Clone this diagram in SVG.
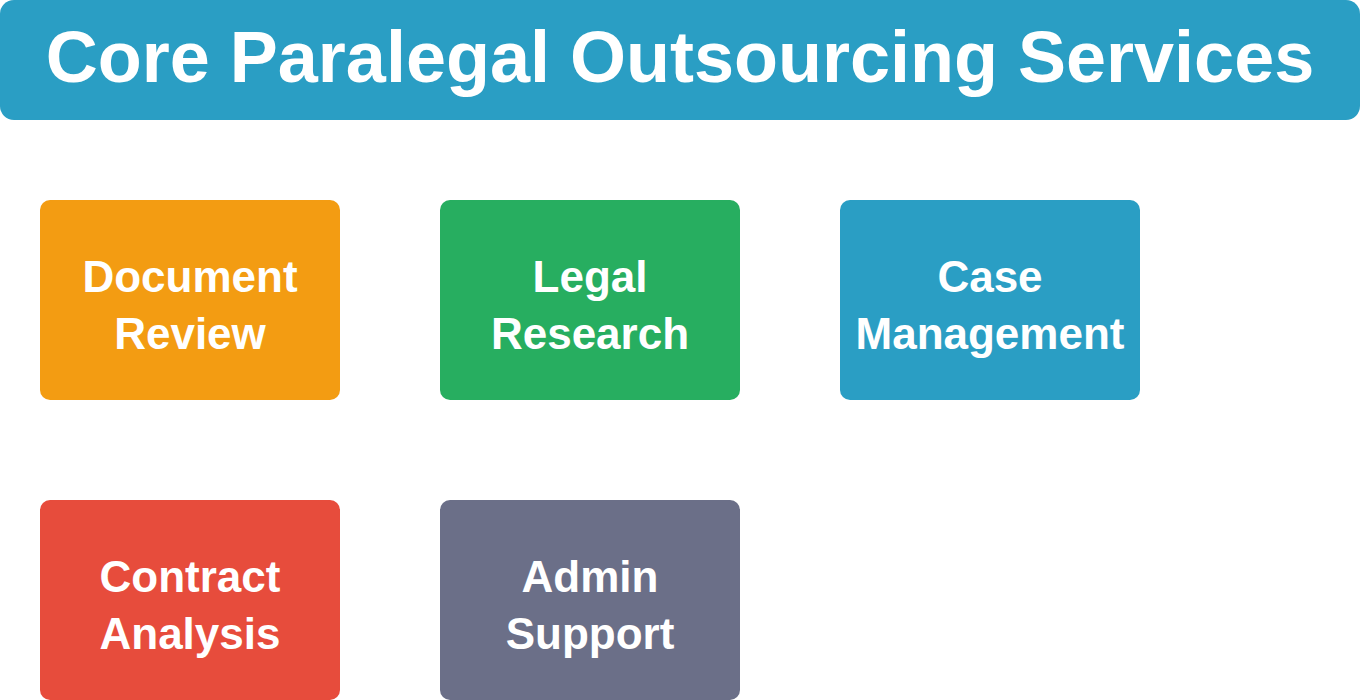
<svg xmlns="http://www.w3.org/2000/svg" width="1360" height="700" viewBox="0 0 1360 700">
<style>
.box{stroke:none}
.lbl{font-family:"Liberation Sans",Arial,sans-serif;font-weight:bold;font-size:44px;fill:#ffffff;text-anchor:middle}
.title{font-family:"Liberation Sans",Arial,sans-serif;font-weight:bold;font-size:72px;fill:#ffffff;text-anchor:middle}
</style>
<rect width="1360" height="700" fill="#ffffff"/>
<g id="header">
<rect x="0" y="0" width="1360" height="120" rx="14" fill="#2A9EC4"/>
<text class="title" x="680" y="82">Core Paralegal Outsourcing Services</text>
</g>
<g id="connectors"></g>
<g id="document-review">
<rect class="box" x="40" y="200" width="300" height="200" rx="10" fill="#F39C12"/>
<text class="lbl" x="190" y="292">Document</text>
<text class="lbl" x="190" y="348.5">Review</text>
</g>
<g id="legal-research">
<rect class="box" x="440" y="200" width="300" height="200" rx="10" fill="#27AE60"/>
<text class="lbl" x="590" y="292">Legal</text>
<text class="lbl" x="590" y="348.5">Research</text>
</g>
<g id="case-management">
<rect class="box" x="840" y="200" width="300" height="200" rx="10" fill="#2A9EC4"/>
<text class="lbl" x="990" y="292">Case</text>
<text class="lbl" x="990" y="348.5">Management</text>
</g>
<g id="contract-analysis">
<rect class="box" x="40" y="500" width="300" height="200" rx="10" fill="#E74C3C"/>
<text class="lbl" x="190" y="592">Contract</text>
<text class="lbl" x="190" y="648.5">Analysis</text>
</g>
<g id="admin-support">
<rect class="box" x="440" y="500" width="300" height="200" rx="10" fill="#6B6F88"/>
<text class="lbl" x="590" y="592">Admin</text>
<text class="lbl" x="590" y="648.5">Support</text>
</g>
</svg>
